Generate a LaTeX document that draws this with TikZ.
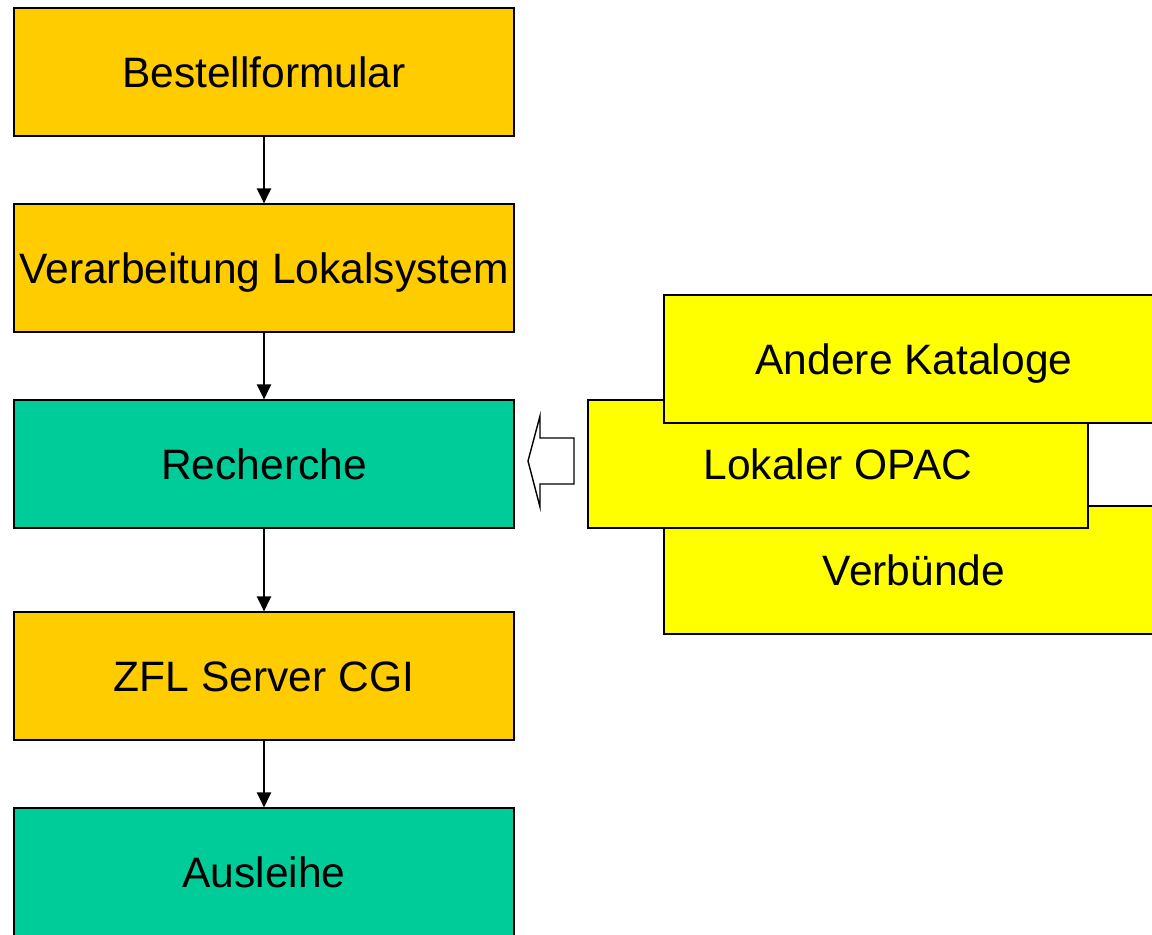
\documentclass[tikz,border=0pt]{standalone}
\usepackage{fontspec}
\setmainfont{Liberation Sans}
\usetikzlibrary{arrows.meta}
\definecolor{ambergelb}{HTML}{FFCC00}
\definecolor{tuerkis}{HTML}{00CC99}
\definecolor{zitrone}{HTML}{FFFF00}
\tikzset{
  kasten/.style={draw=black, line width=0.8pt, minimum width=10cm, minimum height=2.56cm,
    inner sep=0pt, text height=17.3pt, text depth=0pt, font=\fontsize{24.2}{29}\selectfont},
  pfeil/.style={-{Triangle[width=0.29cm,length=0.3cm]}, line width=0.8pt}
}
\begin{document}
\begin{tikzpicture}[x=0.02cm, y=-0.02cm]
  \useasboundingbox (0,0) rectangle (1152,935);
  \clip (0,0) rectangle (1152,935);
  % linke Spalte
  \node[kasten, fill=ambergelb] (bestell) at (264,72)  {Bestellformular};
  \node[kasten, fill=ambergelb] (verarb)  at (264,268) {Verarbeitung Lokalsystem};
  \node[kasten, fill=tuerkis]   (rech)    at (264,464) {Recherche};
  \node[kasten, fill=ambergelb] (zfl)     at (264,676) {ZFL Server CGI};
  \node[kasten, fill=tuerkis]   (ausl)    at (264,872) {Ausleihe};
  \draw[pfeil] (bestell) -- (verarb);
  \draw[pfeil] (verarb) -- (rech);
  \draw[pfeil] (rech) -- (zfl);
  \draw[pfeil] (zfl) -- (ausl);
  % rechte Kataloge, von unten nach oben gestapelt
  \node[kasten, fill=zitrone] (verb)   at (914,570) {Verbünde};
  \node[kasten, fill=zitrone] (lokal)  at (838,464) {Lokaler OPAC};
  \node[kasten, fill=zitrone] (andere) at (914,359) {Andere Kataloge};
  % Blockpfeil zur Recherche
  \draw[line width=0.8pt, fill=white] (528,461) -- (540,416) -- (540,438) -- (574,438)
    -- (574,484) -- (540,484) -- (540,507) -- cycle;
\end{tikzpicture}
\end{document}
